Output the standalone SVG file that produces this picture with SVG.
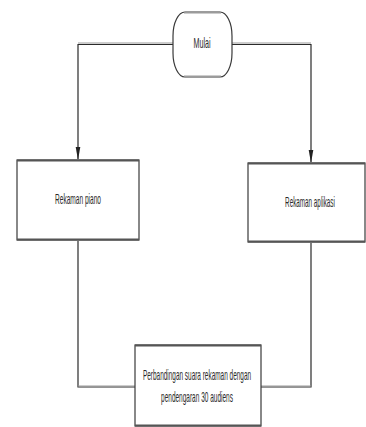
<svg xmlns="http://www.w3.org/2000/svg" width="366" height="427" viewBox="0 0 366 427">
<style>
.box{fill:#fff;stroke:#3a3a3a;stroke-width:1.2}
.edge{fill:none;stroke:#2a2a2a;stroke-width:1.2}
.hl{fill:none;stroke:#9a9a9a;stroke-width:1}
.lbl{font-family:"Liberation Sans",Arial,sans-serif;font-size:14px;fill:#2a2a2a;text-anchor:middle}
</style>
<g id="connectors">
<path class="hl" d="M78,43 H173 M232,43 H311"/>
<path class="edge" d="M78,159 V44.5 H173"/>
<path class="edge" d="M311,162 V44.5 H232"/>
<path d="M75.7,147 L80.3,147 L78,160 Z" fill="#222"/>
<path d="M308.7,150 L313.3,150 L311,163 Z" fill="#222"/>
<path class="edge" d="M78,241 V387 H135"/>
<path class="edge" d="M311,243 V387 H261"/>
<path class="hl" d="M78,386 H135 M261,386 H311"/>
</g>
<g id="mulai">
<rect class="box" x="173" y="12" width="59" height="65" rx="12" ry="24"/>
<path class="hl" d="M184,13 H221 M184,76 H221" stroke="#777"/>
<g transform="translate(202,48) scale(0.5,1)"><text class="lbl" x="0" y="0" textLength="34" lengthAdjust="spacingAndGlyphs">Mulai</text></g>
</g>
<g id="rekaman-piano">
<rect class="box" x="17" y="160" width="122" height="80"/>
<path d="M17,160.5 H139 M17,239.5 H139" stroke="#555" stroke-width="2"/>
<g transform="translate(78,204) scale(0.47,1)"><text class="lbl" x="0" y="0" textLength="98" lengthAdjust="spacingAndGlyphs">Rekaman piano</text></g>
</g>
<g id="rekaman-aplikasi">
<rect class="box" x="248" y="163" width="117" height="79"/>
<path d="M248,163.5 H365 M248,241.5 H365" stroke="#555" stroke-width="2"/>
<g transform="translate(310,207) scale(0.47,1)"><text class="lbl" x="0" y="0" textLength="106" lengthAdjust="spacingAndGlyphs">Rekaman aplikasi</text></g>
</g>
<g id="perbandingan">
<rect class="box" x="135" y="345" width="126" height="81"/>
<path d="M135,345.5 H261 M135,425.5 H261" stroke="#555" stroke-width="2"/>
<g transform="translate(197,380) scale(0.47,1)"><text class="lbl" x="0" y="0" textLength="230" lengthAdjust="spacingAndGlyphs">Perbandingan suara rekaman dengan</text></g>
<g transform="translate(197,402) scale(0.47,1)"><text class="lbl" x="0" y="0" textLength="153" lengthAdjust="spacingAndGlyphs">pendengaran 30 audiens</text></g>
</g>
</svg>
